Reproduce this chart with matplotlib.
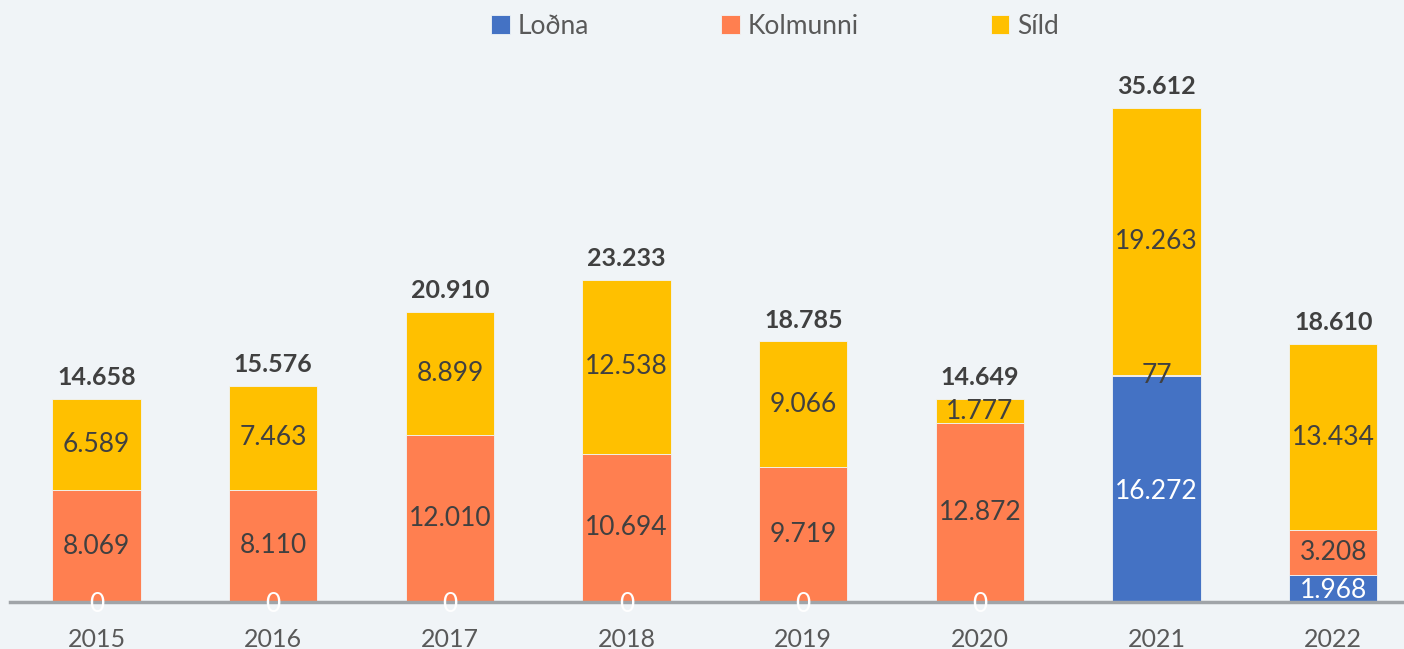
import numpy as np
import matplotlib.pyplot as plt

# Data (tonnes)
years = ["2015", "2016", "2017", "2018", "2019", "2020", "2021", "2022"]
lodna = [0, 0, 0, 0, 0, 0, 16272, 1968]
kolmunni = [8069, 8110, 12010, 10694, 9719, 12872, 77, 3208]
sild = [6589, 7463, 8899, 12538, 9066, 1777, 19263, 13434]
totals = [14658, 15576, 20910, 23233, 18785, 14649, 35612, 18610]

bg = "#F0F4F7"
c_lodna = "#4472C4"
c_kol = "#FF7F50"
c_sild = "#FFC000"
dark = "#404040"

plt.rcParams['font.family'] = ['Lato', 'DejaVu Sans']


def fmt(v):
    return f"{v:,}".replace(",", ".")


fig = plt.figure(figsize=(14.04, 6.49), dpi=100, facecolor=bg)
ax = fig.add_axes([10 / 1404, 1 - 602 / 649, 1 - 10 / 1404, (602 - 60) / 649])
ax.set_facecolor(bg)

x = np.arange(len(years))
w = 0.5
lodna = np.array(lodna)
kolmunni = np.array(kolmunni)
sild = np.array(sild)

b1 = ax.bar(x, lodna, w, color=c_lodna, label="Loðna", edgecolor=bg, linewidth=0.6)
b2 = ax.bar(x, kolmunni, w, bottom=lodna, color=c_kol, label="Kolmunni",
            edgecolor=bg, linewidth=0.6)
b3 = ax.bar(x, sild, w, bottom=lodna + kolmunni, color=c_sild, label="Síld",
            edgecolor=bg, linewidth=0.6)

fs = 19
for i in range(len(years)):
    ax.text(x[i], lodna[i] / 2 - 150, fmt(lodna[i]), ha="center", va="center",
            color="white", fontsize=fs)
    ax.text(x[i], lodna[i] + kolmunni[i] / 2, fmt(kolmunni[i]), ha="center",
            va="center", color=dark, fontsize=fs)
    ax.text(x[i], lodna[i] + kolmunni[i] + sild[i] / 2, fmt(sild[i]),
            ha="center", va="center", color=dark, fontsize=fs)
    ax.text(x[i], totals[i] + 700, fmt(totals[i]), ha="center", va="bottom",
            color=dark, fontsize=18, fontweight="bold")

ax.set_xlim(-0.49, 7.40)
ax.set_ylim(0, (602 - 60) * 35612 / 494)
ax.set_xticks(x)
ax.set_xticklabels(years, fontsize=18, color="#595959")
ax.tick_params(axis="x", length=0, pad=19)
ax.set_yticks([])
for s in ["top", "right", "left"]:
    ax.spines[s].set_visible(False)
ax.spines["bottom"].set_color("#A0A4A8")
ax.spines["bottom"].set_linewidth(2.5)

fig.legend(handles=[b1, b2, b3], loc="center", bbox_to_anchor=(775 / 1404, 1 - 26 / 649),
           ncol=3, frameon=False, fontsize=19, handlelength=0.7, handleheight=0.7,
           handletextpad=0.3, columnspacing=5.0, labelcolor="#595959")

fig.savefig("out.png", dpi=100, facecolor=bg)
